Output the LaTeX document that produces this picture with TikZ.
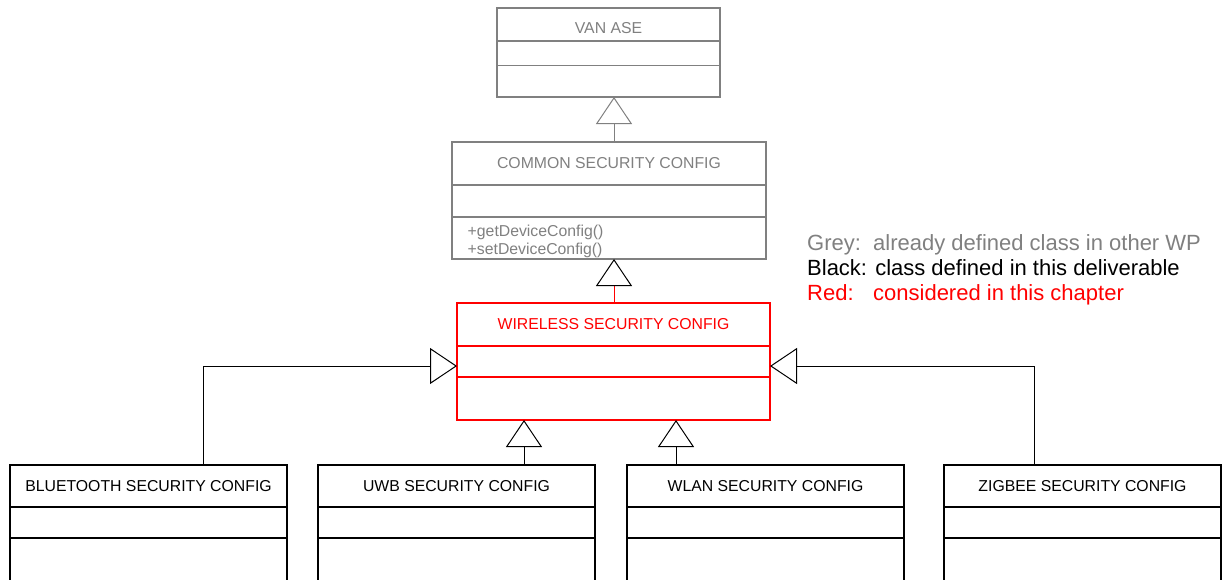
\documentclass[tikz,border=0pt]{standalone}
\usepackage{fontspec}
\setmainfont{Liberation Sans}
\usetikzlibrary{arrows.meta}
\definecolor{umlgrey}{RGB}{128,128,128}
\definecolor{umlred}{RGB}{255,0,0}
\tikzset{
  cls/.style={draw=#1, line width=1.1pt, anchor=north west, inner sep=0pt, outer sep=0pt, rectangle},
  sep/.style={draw=#1, line width=1.1pt},
  ttl/.style={text=#1, font=\fontsize{15.8}{18}\selectfont, inner sep=0pt},
  meth/.style={text=umlgrey, font=\fontsize{15.8}{18}\selectfont, inner sep=0pt, anchor=base west},
  leg/.style={text=#1, font=\fontsize{22}{25}\selectfont, inner sep=0pt, anchor=base west},
  inh/.style={draw=#1, line width=1pt, line join=miter,
    -{Triangle[open, length=27pt, width=36pt, line width=1pt, fill=white, color=#1]}},
  inhred/.style={draw=umlred, line width=1pt, line join=miter,
    -{Triangle[open, length=27pt, width=36pt, line width=1pt, fill=white, color=black]}},
}
\begin{document}
\begin{tikzpicture}[x=1pt,y=-1pt]
\useasboundingbox (0,0) rectangle (1224,579);
\clip (0,0) rectangle (1224,579);

% VAN ASE
\node[cls=umlgrey, minimum width=223pt, minimum height=89pt] (van) at (497,8) {};
\draw[sep=umlgrey] (van.west |- 0,41) -- (van.east |- 0,41);
\draw[sep=umlgrey] (van.west |- 0,65.5) -- (van.east |- 0,65.5);
\node[ttl=umlgrey] (vant) at (608.5,28.5) {VAN ASE};

% COMMON SECURITY CONFIG
\node[cls=umlgrey, minimum width=314pt, minimum height=117pt] (com) at (452,142) {};
\draw[sep=umlgrey] (com.west |- 0,185) -- (com.east |- 0,185);
\draw[sep=umlgrey] (com.west |- 0,217) -- (com.east |- 0,217);
\node[ttl=umlgrey] (comt) at (609,163.5) {COMMON SECURITY CONFIG};
\node[meth] (m1) at (467.5,236.5) {+getDeviceConfig()};
\node[meth] (m2) at (467.5,254) {+setDeviceConfig()};

% WIRELESS SECURITY CONFIG
\node[cls=umlred, minimum width=313pt, minimum height=117pt] (wls) at (457,303) {};
\draw[sep=umlred] (wls.west |- 0,346) -- (wls.east |- 0,346);
\draw[sep=umlred] (wls.west |- 0,377) -- (wls.east |- 0,377);
\node[ttl=umlred] (wlst) at (613.5,324.5) {WIRELESS SECURITY CONFIG};

% Bottom classes
\node[cls=black, minimum width=277pt, minimum height=130pt] (bt) at (10,465) {};
\node[cls=black, minimum width=277pt, minimum height=130pt] (uwb) at (318,465) {};
\node[cls=black, minimum width=277pt, minimum height=130pt] (wlan) at (627,465) {};
\node[cls=black, minimum width=277pt, minimum height=130pt] (zig) at (944,465) {};
\foreach \n in {bt,uwb,wlan,zig}{
  \draw[sep=black] (\n.west |- 0,507) -- (\n.east |- 0,507);
  \draw[sep=black] (\n.west |- 0,538) -- (\n.east |- 0,538);
}
\node[ttl=black] (btt) at (148.5,486) {BLUETOOTH SECURITY CONFIG};
\node[ttl=black] (uwbt) at (456.5,486) {UWB SECURITY CONFIG};
\node[ttl=black] (wlant) at (765.5,486) {WLAN SECURITY CONFIG};
\node[ttl=black] (zigt) at (1082.5,486) {ZIGBEE SECURITY CONFIG};

% Legend
\node[leg=umlgrey] (lg1) at (807,250) {\makebox[66pt][l]{Grey:}already defined class in other WP};
\node[leg=black] (lg2) at (807,275) {Black: class defined in this deliverable};
\node[leg=umlred] (lg3) at (807,300) {\makebox[66pt][l]{Red:}considered in this chapter};

% Generalisations
\draw[inh=umlgrey] (com.north -| 614,0) -- (van.south -| 614,0);
\draw[inhred] (wls.north -| 614,0) -- (com.south -| 614,0);
\draw[inh=black] (bt.north -| 203,0) |- (wls.west |- 0,366);
\draw[inh=black] (zig.north -| 1034,0) |- (wls.east |- 0,366);
\draw[inh=black] (uwb.north -| 524,0) -- (wls.south -| 524,0);
\draw[inh=black] (wlan.north -| 676,0) -- (wls.south -| 676,0);
\end{tikzpicture}
\end{document}
